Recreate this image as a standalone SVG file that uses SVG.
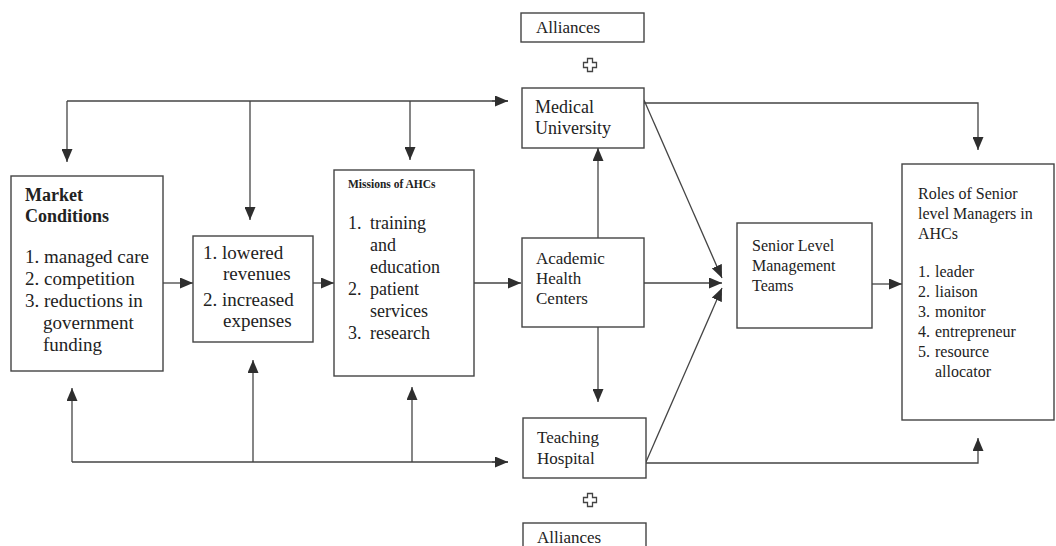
<svg xmlns="http://www.w3.org/2000/svg" width="1056" height="546" viewBox="0 0 1056 546">
<defs>
<marker id="ah" markerUnits="userSpaceOnUse" markerWidth="13" markerHeight="11" refX="13" refY="5.5" orient="auto">
<path d="M0,0 L13,5.5 L0,11 z" fill="#2e2e2e"/>
</marker>
<path id="plus" d="M-2.5,-6.5 H2.5 V-2.5 H6.5 V2.5 H2.5 V6.5 H-2.5 V2.5 H-6.5 V-2.5 H-2.5 Z"/>
</defs>
<style>
rect.box{fill:#fff;stroke:#444;stroke-width:1.4}
.c{fill:none;stroke:#444;stroke-width:1.3}
.a{marker-end:url(#ah)}
text{fill:#222}
.t19{font-size:19px}
.t18{font-size:18px}
.t17{font-size:17px}
.t16{font-size:16px}
.b{font-weight:bold}
.plus{fill:#fff;stroke:#444;stroke-width:1.3}
</style>
<rect width="1056" height="546" fill="#fff"/>

<g id="connectors">
<path class="c" d="M67,101 L508,101"/>
<path class="c a" d="M492,101 L508,101"/>
<path class="c a" d="M67,101 L67,162"/>
<path class="c a" d="M250,101 L250,220"/>
<path class="c a" d="M410,101 L410,160"/>
<path class="c" d="M72,462 L508,462"/>
<path class="c a" d="M492,462 L508,462"/>
<path class="c a" d="M72,462 L72,388"/>
<path class="c a" d="M253,462 L253,360"/>
<path class="c a" d="M412,462 L412,387"/>
<path class="c a" d="M163,283 L193,283"/>
<path class="c a" d="M313,283 L334,283"/>
<path class="c a" d="M474,283 L521,283"/>
<path class="c a" d="M598,238 L598,148"/>
<path class="c a" d="M598,327 L598,402"/>
<path class="c a" d="M644,100 L722,278"/>
<path class="c a" d="M644,283 L722,283"/>
<path class="c a" d="M646,462 L722,288"/>
<path class="c a" d="M644,103 L978,103 L978,150"/>
<path class="c a" d="M646,463 L978,463 L978,438"/>
<path class="c a" d="M872,284 L902,284"/>
</g>

<g font-family="'Liberation Serif', 'Times New Roman', 'DejaVu Serif', serif">
<g id="market">
<rect class="box" x="11" y="176" width="152" height="195"/>
<text class="t18 b" x="25" y="201">Market</text>
<text class="t18 b" x="25" y="222">Conditions</text>
<text class="t19" x="25" y="263">1. managed care</text>
<text class="t19" x="25" y="285">2. competition</text>
<text class="t19" x="25" y="307">3. reductions in</text>
<text class="t19" x="43" y="329">government</text>
<text class="t19" x="43" y="351">funding</text>
</g>

<g id="impacts">
<rect class="box" x="193" y="236" width="120" height="106"/>
<text class="t19" x="203" y="259">1. lowered</text>
<text class="t19" x="223" y="280">revenues</text>
<text class="t19" x="203" y="306">2. increased</text>
<text class="t19" x="223" y="327">expenses</text>
</g>

<g id="missions">
<rect class="box" x="334" y="170" width="140" height="206"/>
<text class="b" style="font-size:11.5px" x="348" y="188">Missions of AHCs</text>
<text class="t18" x="348" y="229">1.</text>
<text class="t18" x="370" y="229">training</text>
<text class="t18" x="370" y="251">and</text>
<text class="t18" x="370" y="273">education</text>
<text class="t18" x="348" y="295">2.</text>
<text class="t18" x="370" y="295">patient</text>
<text class="t18" x="370" y="317">services</text>
<text class="t18" x="348" y="339">3.</text>
<text class="t18" x="370" y="339">research</text>
</g>

<g id="alliances-top">
<rect class="box" x="521" y="13" width="123" height="29"/>
<text class="t17" x="536" y="33">Alliances</text>
<use href="#plus" class="plus" x="590" y="65"/>
</g>

<g id="medical-university">
<rect class="box" x="522" y="88" width="122" height="60"/>
<text class="t18" x="535" y="113">Medical</text>
<text class="t18" x="535" y="134">University</text>
</g>

<g id="ahc">
<rect class="box" x="522" y="238" width="122" height="89"/>
<text class="t17" x="536" y="264">Academic</text>
<text class="t17" x="536" y="284">Health</text>
<text class="t17" x="536" y="304">Centers</text>
</g>

<g id="teaching-hospital">
<rect class="box" x="523" y="418" width="123" height="60"/>
<text class="t17" x="537" y="443">Teaching</text>
<text class="t17" x="537" y="464">Hospital</text>
</g>

<g id="alliances-bottom">
<use href="#plus" class="plus" x="590" y="500"/>
<rect class="box" x="523" y="523" width="123" height="30"/>
<text class="t17" x="537" y="543">Alliances</text>
</g>

<g id="senior-teams">
<rect class="box" x="737" y="223" width="135" height="105"/>
<text class="t16" x="752" y="251">Senior Level</text>
<text class="t16" x="752" y="271">Management</text>
<text class="t16" x="752" y="291">Teams</text>
</g>

<g id="roles">
<rect class="box" x="902" y="164" width="152" height="256"/>
<text class="t16" x="918" y="199">Roles of Senior</text>
<text class="t16" x="918" y="219">level Managers in</text>
<text class="t16" x="918" y="239">AHCs</text>
<text class="t16" x="918" y="277">1.</text><text class="t16" x="935" y="277">leader</text>
<text class="t16" x="918" y="297">2.</text><text class="t16" x="935" y="297">liaison</text>
<text class="t16" x="918" y="317">3.</text><text class="t16" x="935" y="317">monitor</text>
<text class="t16" x="918" y="337">4.</text><text class="t16" x="935" y="337">entrepreneur</text>
<text class="t16" x="918" y="357">5.</text><text class="t16" x="935" y="357">resource</text>
<text class="t16" x="935" y="377">allocator</text>
</g>
</g>
</svg>
